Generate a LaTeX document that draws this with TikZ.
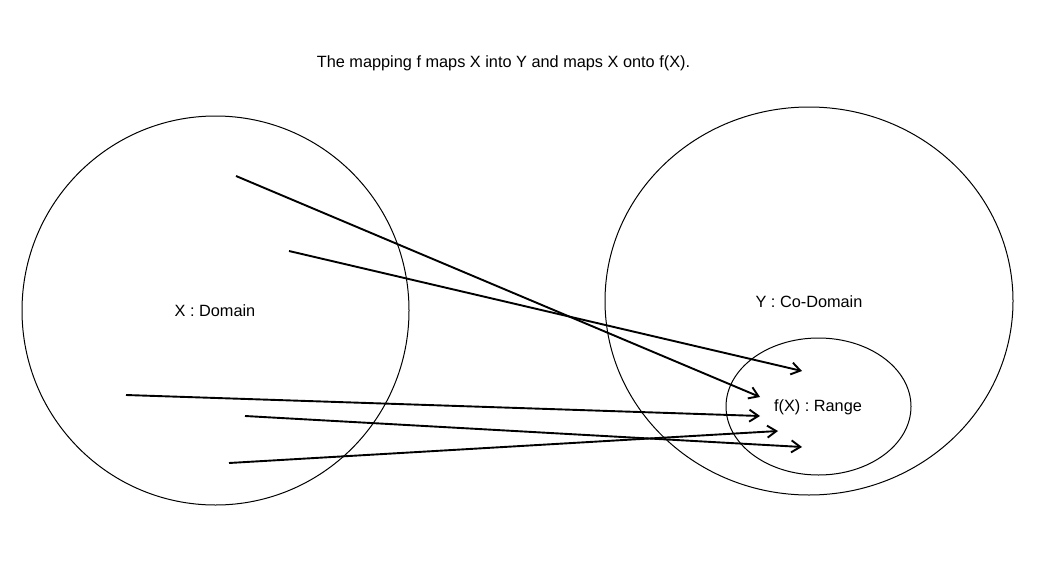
\documentclass[tikz,border=0pt]{standalone}
\usepackage{fontspec}
\setmainfont{Liberation Sans}
\usetikzlibrary{arrows.meta}
\begin{document}
\begin{tikzpicture}[x=1pt,y=-1pt,
  lbl/.style={font=\fontsize{16.3}{19}\selectfont, inner sep=0pt},
  setline/.style={draw=black, line width=1pt},
  maparrow/.style={draw=black, line width=1.9pt, -{Straight Barb[length=9pt,width=12pt,line width=1.9pt]}}]
\useasboundingbox (0,0) rectangle (1043,586);
\fill[white] (0,0) rectangle (1043,586);
\node[lbl] (title) at (503.5,63) {The mapping f maps X into Y and maps X onto f(X).};
\draw[setline] (215.5,310.5) ellipse [x radius=193.5, y radius=194.5];
\draw[setline] (809,301) ellipse [x radius=204, y radius=194];
\draw[setline] (818.5,406.5) ellipse [x radius=92.5, y radius=68.5];
\node[lbl] (dom) at (215,311) {X : Domain};
\node[lbl] (cod) at (809,302) {Y : Co-Domain};
\node[lbl] (rng) at (818,407) {f(X) : Range};
\coordinate (a1) at (236,176); \coordinate (b1) at (760,397);
\coordinate (a2) at (289,251); \coordinate (b2) at (802,371);
\coordinate (a3) at (126,395); \coordinate (b3) at (760,416);
\coordinate (a4) at (245,416); \coordinate (b4) at (802,447);
\coordinate (a5) at (229,463); \coordinate (b5) at (778,431);
\draw[maparrow] (a1) -- (b1);
\draw[maparrow] (a2) -- (b2);
\draw[maparrow] (a3) -- (b3);
\draw[maparrow] (a4) -- (b4);
\draw[maparrow] (a5) -- (b5);
\end{tikzpicture}
\end{document}
